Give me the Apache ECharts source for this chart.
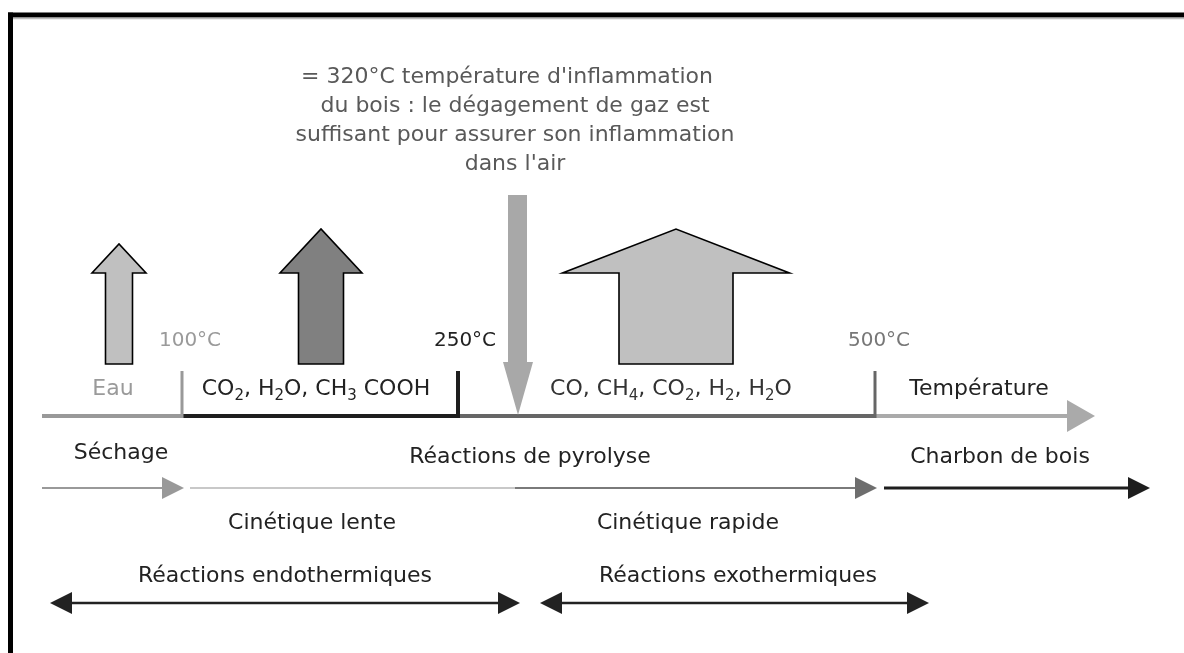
<!DOCTYPE html>
<html>
<head>
<meta charset="utf-8">
<style>html,body{margin:0;padding:0;background:#fff;}#c{width:1184px;height:653px;}</style>
<script src="https://cdn.jsdelivr.net/npm/echarts@6/dist/echarts.min.js"></script>
</head>
<body>
<div id="c"></div>
<script>
// ---------- DATA (diagram units along the temperature axis / rows) ----------
const axisStart = 42;
const stageEdges = [182, 458, 875];           // 100°C, 250°C, 500°C boundaries
const tempLabels = ['100°C', '250°C', '500°C'];
const axisEnd = 1095;
const axisName = 'Température';

const gasNames = ['Eau', 'CO{s|2}, H{s|2}O, CH{s|3} COOH', 'CO, CH{s|4}, CO{s|2}, H{s|2}, H{s|2}O'];
const gasArrowX = [119, 321, 676];             // centre of each gas-release arrow
const gasShaft = [27, 45, 114];                // relative quantity (shaft width)
const gasHead = [54, 82, 227];                 // head width
const gasTop = [244, 229, 229];                // arrow tip level

const ignitionX = 518;                         // ~320°C
const ignitionText = [
  "= 320°C température d'inflammation",
  'du bois : le dégagement de gaz est',
  'suffisant pour assurer son inflammation',
  "dans l'air"
];

const phaseNames = ['Séchage', 'Réactions de pyrolyse', 'Charbon de bois'];
const phaseFrom = [42, 190, 884];
const phaseTo = [184, 877, 1150];
const pyrolysisSplit = 515;
const kineticNames = ['Cinétique lente', 'Cinétique rapide'];
const thermalNames = ['Réactions endothermiques', 'Réactions exothermiques'];
const thermalFrom = [50, 540];
const thermalTo = [520, 929];

// ---------- LAYOUT / STYLE ----------
const FONT = '"DejaVu Sans"';
const FS = 22;
const rows = { axis: 416, tickTop: 371, tempLbl: 341, gasLbl: 389, arrowBase: 364, headBase: 273,
               phaseLbl: [453, 457, 457], phaseArrow: 488, kinLbl: 523, thermLbl: 576, thermArrow: 603,
               ignTop: 195, ignHead: 362, textTop: 77, textStep: 29 };
const segColors = ['#999999', '#1e1e1e', '#666666', '#aaaaaa'];
const tempLabelColors = ['#9a9a9a', '#222222', '#777777'];
const tempLabelX = [190, 465, 879];
const gasLabelX = [113, 316, 671];
const gasLabelColors = ['#9a9a9a', '#222222', '#333333'];
const gasFill = ['#c0c0c0', '#808080', '#c0c0c0'];
const phaseLabelX = [121, 530, 1000];
const kinLabelX = [312, 688];
const thermLabelX = [285, 738];

function txt(api, x, y, text, color, size, align) {
  const p = api.coord([x, y]);
  return {
    type: 'text', x: p[0], y: p[1],
    style: {
      text: text, fill: color, font: (size || FS) + 'px ' + FONT,
      align: align || 'center', verticalAlign: 'middle', lineHeight: 30,
      rich: { s: { fontSize: 15, fontFamily: 'DejaVu Sans', fill: color, lineHeight: 13, verticalAlign: 'bottom' } }
    }
  };
}
function line(api, x0, y0, x1, y1, color, w) {
  const a = api.coord([x0, y0]), b = api.coord([x1, y1]);
  return { type: 'line', shape: { x1: a[0], y1: a[1], x2: b[0], y2: b[1] }, style: { stroke: color, lineWidth: w } };
}
function poly(api, pts, fill, stroke, w) {
  return { type: 'polygon', shape: { points: pts.map(p => api.coord(p)) },
           style: { fill: fill, stroke: stroke || null, lineWidth: w || 0, lineJoin: 'miter' } };
}
function headRight(api, tip, y, len, half, color) {
  return poly(api, [[tip - len, y - half], [tip, y], [tip - len, y + half]], color);
}
function headLeft(api, tip, y, len, half, color) {
  return poly(api, [[tip + len, y - half], [tip, y], [tip + len, y + half]], color);
}

function renderDiagram(params, api) {
  const c = [];
  // temperature axis segments
  const xs = [axisStart].concat(stageEdges).concat([axisEnd - 26]);
  for (let i = 0; i < xs.length - 1; i++) {
    c.push(line(api, xs[i], rows.axis, xs[i + 1], rows.axis, segColors[i], 4));
  }
  c.push(headRight(api, axisEnd, rows.axis, 28, 16, segColors[3]));
  stageEdges.forEach((x, i) => {
    c.push(line(api, x, rows.tickTop, x, rows.axis + 2, segColors[i + 1 > 2 ? 2 : i], i === 1 ? 4 : 3));
    c.push(txt(api, tempLabelX[i], rows.tempLbl, tempLabels[i], tempLabelColors[i], 20));
  });
  c.push(txt(api, 979, rows.gasLbl, axisName, '#222222'));
  gasNames.forEach((g, i) => c.push(txt(api, gasLabelX[i], rows.gasLbl, g, gasLabelColors[i])));

  // gas release arrows
  gasArrowX.forEach((cx, i) => {
    const s = gasShaft[i] / 2, h = gasHead[i] / 2;
    c.push(poly(api, [[cx - s, rows.arrowBase], [cx - s, rows.headBase], [cx - h, rows.headBase], [cx, gasTop[i]],
      [cx + h, rows.headBase], [cx + s, rows.headBase], [cx + s, rows.arrowBase]], gasFill[i], '#000', 1.6));
  });

  // ignition arrow
  c.push(poly(api, [[ignitionX - 10, rows.ignTop], [ignitionX + 9, rows.ignTop], [ignitionX + 9, rows.ignHead],
    [ignitionX + 15, rows.ignHead], [ignitionX, rows.axis - 1], [ignitionX - 15, rows.ignHead], [ignitionX - 10, rows.ignHead]], '#a8a8a8'));
  ignitionText.forEach((t, i) => c.push(txt(api, i === 0 ? 507 : 515, rows.textTop + i * rows.textStep, t, '#595959')));

  // phase arrows
  const py = rows.phaseArrow;
  c.push(line(api, phaseFrom[0], py, phaseTo[0] - 20, py, '#999999', 2));
  c.push(headRight(api, phaseTo[0], py, 22, 11, '#999999'));
  c.push(line(api, phaseFrom[1], py, pyrolysisSplit, py, '#c8c8c8', 2));
  c.push(line(api, pyrolysisSplit, py, phaseTo[1] - 20, py, '#7a7a7a', 2));
  c.push(headRight(api, phaseTo[1], py, 22, 11, '#6e6e6e'));
  c.push(line(api, phaseFrom[2], py, phaseTo[2] - 20, py, '#1e1e1e', 3));
  c.push(headRight(api, phaseTo[2], py, 22, 11, '#1e1e1e'));
  phaseNames.forEach((n, i) => c.push(txt(api, phaseLabelX[i], rows.phaseLbl[i], n, '#222222')));
  kineticNames.forEach((n, i) => c.push(txt(api, kinLabelX[i], rows.kinLbl, n, '#222222')));

  // thermal double arrows
  thermalFrom.forEach((x0, i) => {
    const x1 = thermalTo[i], y = rows.thermArrow;
    c.push(line(api, x0 + 18, y, x1 - 18, y, '#222222', 2.5));
    c.push(headLeft(api, x0, y, 22, 11, '#222222'));
    c.push(headRight(api, x1, y, 22, 11, '#222222'));
    c.push(txt(api, thermLabelX[i], rows.thermLbl, thermalNames[i], '#222222'));
  });
  return { type: 'group', children: c };
}

const chart = echarts.init(document.getElementById('c'), null, { renderer: 'canvas' });
chart.setOption({
  backgroundColor: '#ffffff',
  animation: false,
  grid: { left: 0, right: 0, top: 0, bottom: 0 },
  xAxis: { type: 'value', min: 0, max: 1184, show: false },
  yAxis: { type: 'value', min: 0, max: 653, inverse: true, show: false },
  graphic: [
    { type: 'line', shape: { x1: 8, y1: 15, x2: 1184, y2: 15 }, style: { stroke: '#000', lineWidth: 5 } },
    { type: 'line', shape: { x1: 8, y1: 18.5, x2: 1184, y2: 18.5 }, style: { stroke: '#bdbdbd', lineWidth: 1.5 } },
    { type: 'line', shape: { x1: 10.5, y1: 12.5, x2: 10.5, y2: 653 }, style: { stroke: '#000', lineWidth: 5 } }
  ],
  series: [{
    type: 'custom', coordinateSystem: 'cartesian2d', silent: true, clip: false,
    data: [[0, 0]], renderItem: renderDiagram
  }]
});
</script>
</body>
</html>
